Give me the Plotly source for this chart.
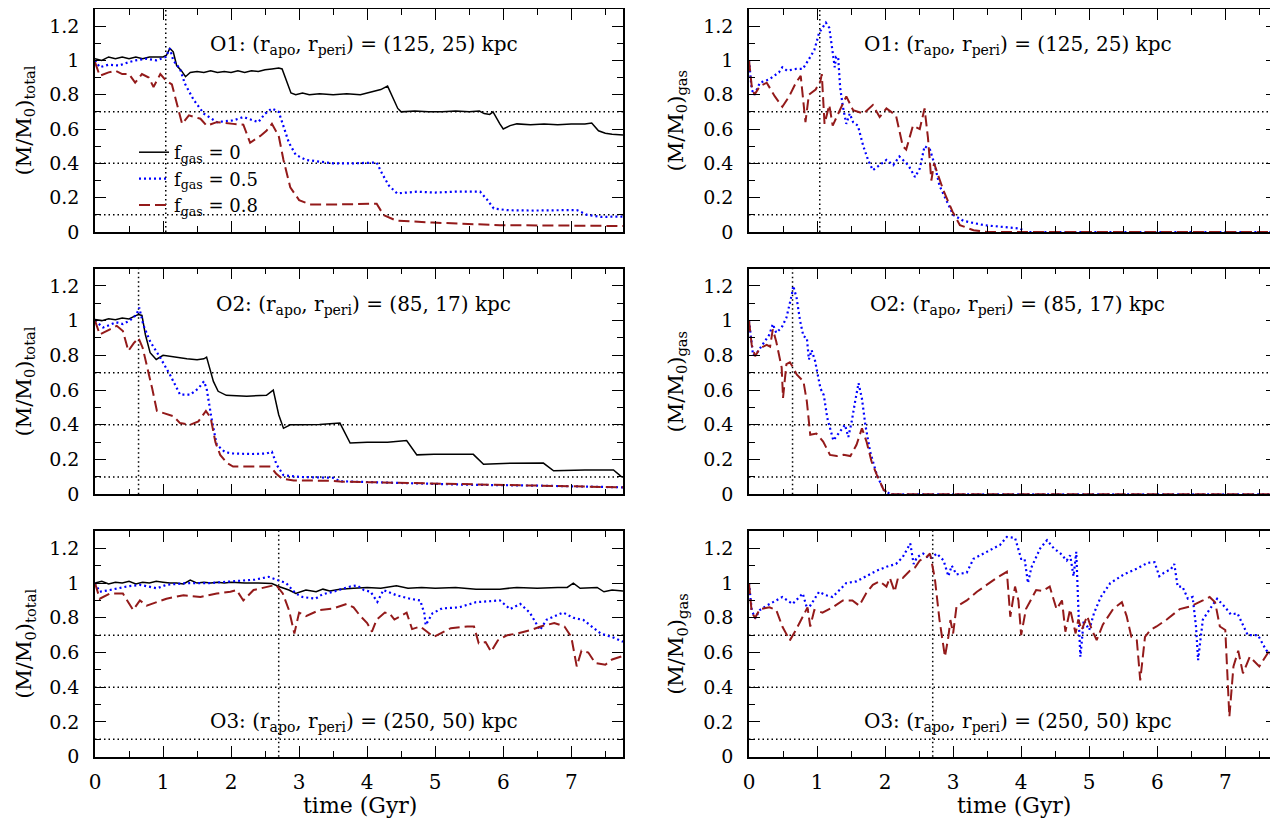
import plotly.graph_objects as go

# ---------------- data (time in Gyr, mass fraction) ----------------
o1_tot_f0 = [(0,1.01),(0.1,1.0),(0.2,1.02),(0.3,1.01),(0.4,1.02),(0.5,1.01),(0.6,1.02),(0.7,1.01),(0.8,1.02),(0.9,1.02),(1.0,1.02),(1.05,1.03),(1.1,1.07),(1.15,1.05),(1.2,0.97),(1.27,0.94),(1.33,0.905),(1.4,0.93),(1.5,0.935),(1.6,0.93),(1.7,0.94),(1.8,0.93),(1.9,0.935),(2.0,0.93),(2.1,0.94),(2.2,0.93),(2.3,0.94),(2.4,0.935),(2.5,0.945),(2.6,0.95),(2.7,0.955),(2.75,0.95),(2.82,0.87),(2.88,0.81),(2.95,0.80),(3.05,0.81),(3.15,0.80),(3.3,0.805),(3.5,0.80),(3.7,0.805),(3.9,0.80),(4.1,0.82),(4.2,0.83),(4.3,0.85),(4.38,0.78),(4.45,0.72),(4.5,0.70),(4.7,0.705),(4.9,0.70),(5.1,0.70),(5.3,0.705),(5.5,0.70),(5.65,0.705),(5.72,0.69),(5.8,0.685),(5.85,0.70),(5.95,0.63),(6.0,0.60),(6.1,0.62),(6.2,0.63),(6.4,0.625),(6.6,0.63),(6.8,0.625),(7.0,0.63),(7.2,0.63),(7.3,0.635),(7.4,0.59),(7.5,0.575),(7.6,0.57),(7.76,0.565)]
o1_tot_f05 = [(0,1.0),(0.07,0.96),(0.2,0.975),(0.35,0.97),(0.5,0.99),(0.6,1.0),(0.75,1.01),(0.9,1.0),(1.04,1.02),(1.1,1.07),(1.15,1.0),(1.25,0.95),(1.32,0.865),(1.45,0.77),(1.6,0.69),(1.79,0.64),(1.9,0.645),(2.03,0.65),(2.18,0.67),(2.3,0.655),(2.4,0.64),(2.5,0.69),(2.6,0.72),(2.7,0.70),(2.78,0.61),(2.85,0.52),(2.95,0.45),(3.1,0.42),(3.3,0.41),(3.5,0.40),(3.8,0.40),(4.0,0.405),(4.14,0.405),(4.22,0.34),(4.32,0.27),(4.44,0.225),(4.6,0.23),(4.73,0.235),(5.0,0.23),(5.3,0.235),(5.66,0.235),(5.76,0.19),(5.86,0.137),(6.06,0.127),(6.45,0.125),(6.8,0.128),(7.08,0.128),(7.23,0.10),(7.43,0.088),(7.76,0.09)]
o1_tot_f08 = [(0,0.99),(0.07,0.91),(0.2,0.93),(0.3,0.94),(0.4,0.92),(0.5,0.92),(0.59,0.87),(0.69,0.92),(0.79,0.90),(0.86,0.845),(0.96,0.92),(1.05,0.88),(1.13,0.86),(1.23,0.71),(1.28,0.63),(1.38,0.68),(1.55,0.66),(1.64,0.62),(1.79,0.64),(2.03,0.63),(2.18,0.625),(2.28,0.52),(2.43,0.56),(2.52,0.59),(2.6,0.63),(2.7,0.56),(2.77,0.42),(2.87,0.26),(3.0,0.186),(3.16,0.16),(3.5,0.16),(4.14,0.165),(4.24,0.099),(4.43,0.066),(4.96,0.055),(5.95,0.04),(7.76,0.035)]
o1_gas_f05 = [(0,1.0),(0.04,0.83),(0.08,0.80),(0.16,0.87),(0.3,0.89),(0.44,0.93),(0.49,0.96),(0.56,0.94),(0.69,0.95),(0.79,0.95),(0.87,1.0),(0.96,1.06),(1.03,1.16),(1.13,1.22),(1.18,1.19),(1.23,1.06),(1.26,0.96),(1.28,1.02),(1.31,1.02),(1.34,0.84),(1.38,0.73),(1.43,0.63),(1.48,0.69),(1.53,0.64),(1.6,0.62),(1.68,0.50),(1.75,0.42),(1.82,0.36),(1.92,0.39),(2.02,0.42),(2.12,0.39),(2.21,0.44),(2.34,0.39),(2.44,0.32),(2.51,0.37),(2.58,0.50),(2.66,0.48),(2.73,0.39),(2.8,0.27),(2.9,0.18),(3.0,0.10),(3.15,0.065),(3.45,0.04),(3.99,0.02),(4.05,0.0),(7.76,0.0)]
o1_gas_f08 = [(0,1.0),(0.04,0.85),(0.08,0.80),(0.16,0.85),(0.26,0.87),(0.38,0.79),(0.49,0.73),(0.59,0.79),(0.69,0.87),(0.76,0.91),(0.83,0.64),(0.88,0.80),(0.98,0.83),(1.05,0.88),(1.07,0.92),(1.11,0.63),(1.18,0.74),(1.23,0.62),(1.3,0.68),(1.43,0.79),(1.53,0.71),(1.68,0.69),(1.82,0.74),(1.92,0.67),(2.02,0.72),(2.16,0.68),(2.26,0.50),(2.31,0.48),(2.41,0.62),(2.51,0.60),(2.58,0.72),(2.63,0.55),(2.68,0.30),(2.72,0.40),(2.78,0.33),(2.86,0.24),(2.99,0.12),(3.1,0.04),(3.3,0.01),(3.5,0.0),(7.76,0.0)]

o2_tot_f0 = [(0,1.007),(0.1,1.0),(0.2,1.01),(0.3,1.005),(0.4,1.015),(0.5,1.01),(0.59,1.027),(0.64,1.035),(0.69,1.03),(0.74,0.92),(0.81,0.815),(0.9,0.776),(1.0,0.80),(1.15,0.79),(1.35,0.78),(1.5,0.775),(1.6,0.78),(1.64,0.79),(1.74,0.65),(1.81,0.593),(1.93,0.57),(2.23,0.565),(2.52,0.57),(2.62,0.60),(2.7,0.458),(2.77,0.38),(2.87,0.40),(3.0,0.40),(3.3,0.402),(3.6,0.41),(3.75,0.295),(4.0,0.30),(4.3,0.30),(4.58,0.31),(4.73,0.227),(4.98,0.23),(5.56,0.23),(5.71,0.173),(6.0,0.178),(6.59,0.18),(6.74,0.135),(7.2,0.14),(7.62,0.14),(7.74,0.10)]
o2_tot_f05 = [(0,1.0),(0.12,0.96),(0.31,0.99),(0.41,0.98),(0.51,1.0),(0.61,1.035),(0.65,1.075),(0.71,0.975),(0.81,0.88),(0.96,0.786),(1.1,0.69),(1.25,0.574),(1.4,0.574),(1.52,0.61),(1.6,0.65),(1.64,0.61),(1.72,0.42),(1.79,0.285),(1.91,0.243),(2.03,0.235),(2.3,0.232),(2.52,0.235),(2.6,0.245),(2.67,0.17),(2.77,0.11),(3.0,0.10),(3.5,0.095),(3.6,0.075),(4.5,0.065),(5.5,0.055),(6.5,0.05),(7.76,0.04)]
o2_tot_f08 = [(0,1.0),(0.07,0.92),(0.22,0.95),(0.32,0.97),(0.41,0.94),(0.49,0.825),(0.57,0.87),(0.64,0.90),(0.7,0.844),(0.77,0.73),(0.84,0.61),(0.91,0.48),(1.0,0.47),(1.15,0.45),(1.25,0.41),(1.4,0.40),(1.52,0.42),(1.63,0.48),(1.7,0.44),(1.77,0.30),(1.84,0.227),(1.94,0.18),(2.03,0.16),(2.48,0.16),(2.58,0.16),(2.66,0.12),(2.75,0.09),(2.92,0.08),(3.45,0.078),(3.6,0.073),(4.5,0.065),(5.5,0.055),(6.5,0.05),(7.76,0.04)]
o2_gas_f05 = [(0,1.0),(0.04,0.86),(0.06,0.80),(0.11,0.81),(0.21,0.87),(0.3,0.92),(0.35,0.98),(0.4,0.93),(0.48,0.96),(0.55,1.017),(0.63,1.15),(0.65,1.20),(0.7,1.13),(0.75,1.0),(0.8,0.91),(0.85,0.90),(0.88,0.776),(0.92,0.83),(0.97,0.77),(1.05,0.61),(1.1,0.57),(1.15,0.44),(1.24,0.31),(1.34,0.36),(1.41,0.40),(1.46,0.33),(1.51,0.42),(1.56,0.535),(1.61,0.64),(1.66,0.55),(1.71,0.40),(1.78,0.246),(1.88,0.11),(1.98,0.025),(2.08,0.0),(7.76,0.0)]
o2_gas_f08 = [(0,1.0),(0.04,0.86),(0.09,0.795),(0.16,0.84),(0.26,0.86),(0.31,0.85),(0.35,0.95),(0.4,0.88),(0.48,0.73),(0.5,0.555),(0.55,0.75),(0.6,0.76),(0.65,0.73),(0.7,0.69),(0.8,0.65),(0.85,0.535),(0.9,0.343),(0.99,0.35),(1.09,0.304),(1.19,0.227),(1.29,0.22),(1.39,0.227),(1.49,0.22),(1.58,0.285),(1.66,0.38),(1.73,0.30),(1.8,0.19),(1.88,0.11),(1.98,0.025),(2.08,0.0),(7.76,0.0)]

o3_tot_f0 = [(0,1.0),(0.1,1.01),(0.2,0.995),(0.3,1.005),(0.4,1.0),(0.5,1.01),(0.6,0.995),(0.7,1.005),(0.8,1.0),(0.9,1.01),(1.0,1.005),(1.1,1.0),(1.2,1.0),(1.3,0.995),(1.4,1.017),(1.5,1.0),(1.6,1.005),(1.7,1.0),(1.8,1.005),(1.9,1.0),(2.0,1.005),(2.2,1.0),(2.4,1.0),(2.6,0.997),(2.7,0.98),(2.85,0.96),(2.95,0.94),(3.1,0.96),(3.25,0.95),(3.35,0.965),(3.45,0.955),(3.6,0.965),(3.8,0.97),(4.0,0.975),(4.2,0.97),(4.43,0.985),(4.6,0.97),(4.8,0.975),(5.0,0.97),(5.3,0.975),(5.6,0.965),(5.95,0.965),(6.2,0.975),(6.5,0.97),(6.8,0.975),(6.94,0.975),(7.03,1.0),(7.13,0.97),(7.38,0.975),(7.48,0.95),(7.6,0.96),(7.76,0.955)]
o3_tot_f05 = [(0,1.0),(0.07,0.95),(0.22,0.96),(0.46,0.98),(0.66,0.99),(0.91,0.97),(1.05,0.99),(1.34,1.0),(1.68,1.0),(2.02,1.01),(2.35,1.02),(2.55,1.036),(2.66,1.02),(2.81,1.0),(2.95,0.94),(3.05,0.92),(3.24,0.91),(3.34,0.935),(3.5,0.95),(3.75,0.98),(3.85,0.987),(3.95,0.96),(4.05,0.95),(4.15,0.892),(4.24,0.96),(4.43,0.93),(4.63,0.91),(4.78,0.90),(4.84,0.826),(4.86,0.758),(4.96,0.826),(5.1,0.854),(5.35,0.86),(5.6,0.89),(5.95,0.90),(6.1,0.85),(6.25,0.88),(6.39,0.83),(6.54,0.73),(6.64,0.79),(6.88,0.83),(7.03,0.80),(7.18,0.787),(7.43,0.71),(7.62,0.686),(7.76,0.662)]
o3_tot_f08 = [(0,1.0),(0.07,0.91),(0.22,0.94),(0.41,0.94),(0.56,0.845),(0.66,0.90),(0.76,0.87),(0.91,0.89),(1.05,0.91),(1.3,0.93),(1.55,0.92),(1.79,0.94),(1.99,0.95),(2.08,0.96),(2.18,0.90),(2.33,0.96),(2.55,0.98),(2.66,0.99),(2.76,0.94),(2.85,0.845),(2.93,0.71),(3.0,0.83),(3.1,0.81),(3.3,0.845),(3.5,0.854),(3.7,0.88),(3.8,0.86),(3.9,0.81),(4.0,0.77),(4.07,0.72),(4.14,0.79),(4.26,0.83),(4.33,0.825),(4.4,0.79),(4.58,0.83),(4.66,0.735),(4.78,0.75),(4.88,0.72),(4.98,0.69),(5.08,0.71),(5.23,0.74),(5.47,0.75),(5.57,0.75),(5.64,0.653),(5.74,0.66),(5.82,0.605),(5.92,0.67),(6.06,0.70),(6.21,0.71),(6.41,0.73),(6.55,0.75),(6.75,0.77),(6.9,0.75),(7.0,0.69),(7.08,0.52),(7.15,0.61),(7.25,0.60),(7.35,0.54),(7.5,0.53),(7.6,0.56),(7.76,0.58)]
o3_gas_f05 = [(0,1.0),(0.04,0.845),(0.09,0.797),(0.16,0.845),(0.26,0.87),(0.4,0.90),(0.49,0.92),(0.64,0.88),(0.79,0.94),(0.86,0.845),(0.93,0.89),(0.98,0.92),(1.03,0.95),(1.13,0.93),(1.23,0.92),(1.33,0.96),(1.43,1.0),(1.58,1.01),(1.73,1.04),(1.87,1.07),(2.02,1.094),(2.16,1.11),(2.26,1.15),(2.37,1.228),(2.42,1.11),(2.47,1.15),(2.56,1.17),(2.66,1.14),(2.76,1.17),(2.86,1.13),(2.93,1.04),(2.98,1.10),(3.05,1.05),(3.2,1.06),(3.3,1.14),(3.49,1.18),(3.69,1.22),(3.79,1.266),(3.91,1.26),(4.0,1.14),(4.05,1.14),(4.1,1.0),(4.15,1.09),(4.28,1.2),(4.38,1.247),(4.48,1.2),(4.58,1.17),(4.67,1.13),(4.72,1.16),(4.77,1.04),(4.81,1.18),(4.85,0.758),(4.87,0.576),(4.92,0.787),(5.0,0.73),(5.07,0.826),(5.17,0.92),(5.31,1.0),(5.51,1.05),(5.71,1.085),(5.86,1.117),(5.96,1.12),(6.03,1.04),(6.1,1.06),(6.2,1.08),(6.25,1.11),(6.3,0.98),(6.37,0.98),(6.45,0.91),(6.52,0.92),(6.57,0.748),(6.6,0.556),(6.67,0.79),(6.79,0.86),(6.88,0.91),(7.0,0.86),(7.08,0.82),(7.18,0.825),(7.33,0.70),(7.48,0.70),(7.6,0.614),(7.72,0.576),(7.76,0.52)]
o3_gas_f08 = [(0,1.0),(0.04,0.83),(0.09,0.80),(0.16,0.85),(0.3,0.86),(0.4,0.845),(0.49,0.75),(0.6,0.67),(0.69,0.73),(0.79,0.81),(0.86,0.86),(0.9,0.75),(0.96,0.845),(1.08,0.83),(1.23,0.86),(1.38,0.90),(1.52,0.90),(1.62,0.87),(1.72,0.94),(1.82,0.99),(1.92,1.01),(2.02,0.98),(2.07,1.03),(2.14,0.95),(2.19,1.03),(2.26,1.03),(2.36,1.07),(2.44,1.09),(2.51,1.13),(2.61,1.15),(2.66,1.17),(2.73,1.03),(2.8,0.787),(2.88,0.576),(2.93,0.69),(2.96,0.787),(3.0,0.71),(3.05,0.865),(3.2,0.90),(3.35,0.95),(3.49,0.99),(3.64,1.03),(3.79,1.065),(3.84,0.806),(3.91,0.98),(3.96,0.90),(4.0,0.70),(4.07,0.85),(4.22,0.96),(4.32,0.955),(4.42,0.98),(4.52,0.85),(4.6,0.90),(4.65,0.72),(4.72,0.85),(4.8,0.71),(4.84,0.79),(4.89,0.73),(4.97,0.81),(5.04,0.73),(5.11,0.672),(5.2,0.76),(5.35,0.85),(5.48,0.89),(5.55,0.81),(5.62,0.69),(5.7,0.67),(5.75,0.44),(5.82,0.69),(5.9,0.73),(5.99,0.75),(6.14,0.79),(6.33,0.85),(6.48,0.865),(6.67,0.90),(6.77,0.92),(6.85,0.89),(6.92,0.75),(7.0,0.73),(7.06,0.23),(7.12,0.52),(7.19,0.61),(7.26,0.48),(7.36,0.576),(7.5,0.52),(7.63,0.60),(7.73,0.60),(7.76,0.58)]

orbit_labels = ["O1: (r<sub>apo</sub>, r<sub>peri</sub>) = (125, 25) kpc",
                "O2: (r<sub>apo</sub>, r<sub>peri</sub>) = (85, 17) kpc",
                "O3: (r<sub>apo</sub>, r<sub>peri</sub>) = (250, 50) kpc"]
pericentre_times = [1.04, 0.64, 2.70]
ref_levels = [0.1, 0.4, 0.7]
legend_names = ["f<sub>gas</sub> = 0", "f<sub>gas</sub> = 0.5", "f<sub>gas</sub> = 0.8"]
x_ticks = [0, 1, 2, 3, 4, 5, 6, 7]
y_ticks = [0, 0.2, 0.4, 0.6, 0.8, 1.0, 1.2]
y_ticktext = ["0", "0.2", "0.4", "0.6", "0.8", "1", "1.2"]

# ---------------- layout / style ----------------
# the page body adds an 8px offset, so the figure is 1270x811 and positions are screen-8
OFF = 8
W, H = 1278 - OFF, 819 - OFF
FONT = "DejaVu Serif"
styles = {
    0: dict(color="black", width=1.5, dash="solid"),
    1: dict(color="#0000ff", width=2.2, dash="2px,3px"),
    2: dict(color="#931a1a", width=2, dash="11px,5px"),
}
panels = [
    (0, 0, [o1_tot_f0, o1_tot_f05, o1_tot_f08], [0, 1, 2]),
    (0, 1, [o1_gas_f05, o1_gas_f08], [1, 2]),
    (1, 0, [o2_tot_f0, o2_tot_f05, o2_tot_f08], [0, 1, 2]),
    (1, 1, [o2_gas_f05, o2_gas_f08], [1, 2]),
    (2, 0, [o3_tot_f0, o3_tot_f05, o3_tot_f08], [0, 1, 2]),
    (2, 1, [o3_gas_f05, o3_gas_f08], [1, 2]),
]


def px(x):
    return (x - OFF) / W


def py(y):
    return 1 - (y - OFF) / H


xdom = {0: [px(95), px(623)], 1: [px(749), px(1277)]}
ypix = {0: (8.9, 232.0), 1: (268.5, 494.3), 2: (531.0, 756.7)}
ydom = {r: [py(b), py(t)] for r, (t, b) in ypix.items()}

fig = go.Figure()
layout = dict(template="none", width=W, height=H, margin=dict(l=0, r=0, t=0, b=0, pad=0),
              autosize=False, plot_bgcolor="white", paper_bgcolor="white",
              font=dict(family=FONT, size=18, color="black"),
              showlegend=True,
              legend=dict(x=px(134), y=py(134), xanchor="left", yanchor="top",
                          bgcolor="rgba(0,0,0,0)", borderwidth=0,
                          font=dict(family=FONT, size=18, color="black"),
                          tracegroupgap=0, itemwidth=30))
shapes, annotations = [], []

for i, (r, c, series, kinds) in enumerate(panels):
    n = i + 1
    xa = "x" if n == 1 else f"x{n}"
    ya = "y" if n == 1 else f"y{n}"
    for s, k in zip(series, kinds):
        st = styles[k]
        fig.add_trace(go.Scatter(
            x=[p[0] for p in s], y=[p[1] for p in s], mode="lines",
            xaxis=xa, yaxis=ya, name=legend_names[k],
            showlegend=(n == 1), legendrank=k,
            line=dict(color=st["color"], width=st["width"], dash=st["dash"]),
            hoverinfo="skip"))
    bottom = (r == 2)
    layout[f"xaxis{n if n > 1 else ''}"] = dict(
        domain=xdom[c], anchor=ya, range=[0, 7.76], tickmode="array", tickvals=x_ticks,
        ticks="inside", ticklen=11, tickwidth=1.3, tickcolor="black",
        minor=dict(dtick=0.5, tick0=0, ticks="inside", ticklen=6, tickwidth=1.3, tickcolor="black"),
        showline=True, linecolor="black", linewidth=1.6, mirror="ticks",
        showgrid=False, zeroline=False, showticklabels=bottom, automargin=False,
        tickfont=dict(family=FONT, size=20), ticklabelstandoff=6)
    layout[f"yaxis{n if n > 1 else ''}"] = dict(
        domain=ydom[r], anchor=xa, range=[0, 1.3], tickmode="array",
        tickvals=y_ticks, ticktext=y_ticktext,
        ticks="inside", ticklen=11, tickwidth=1.3, tickcolor="black",
        minor=dict(dtick=0.1, tick0=0, ticks="inside", ticklen=6, tickwidth=1.3, tickcolor="black"),
        showline=True, linecolor="black", linewidth=1.6, mirror="ticks",
        showgrid=False, zeroline=False, automargin=False,
        tickfont=dict(family=FONT, size=19), ticklabelstandoff=10)
    for lv in ref_levels:
        shapes.append(dict(type="line", xref=f"{xa} domain", yref=ya, x0=0, x1=1, y0=lv, y1=lv,
                           line=dict(color="black", width=1.5, dash="1.5px,3px"), layer="below"))
    tp = pericentre_times[r]
    shapes.append(dict(type="line", xref=xa, yref=f"{ya} domain", x0=tp, x1=tp, y0=0, y1=1,
                       line=dict(color="black", width=1.5, dash="1.5px,3px"), layer="below"))
    annotations.append(dict(text=orbit_labels[r], xref=xa, yref=ya, x=3.95,
                            y=(1.09 if r < 2 else 0.2), showarrow=False,
                            xanchor="center", yanchor="middle",
                            font=dict(family=FONT, size=20)))
    ytitle = "(M/M<sub>0</sub>)<sub>total</sub>" if c == 0 else "(M/M<sub>0</sub>)<sub>gas</sub>"
    yc = (ydom[r][0] + ydom[r][1]) / 2
    annotations.append(dict(text=ytitle, xref="paper", yref="paper",
                            x=px(25 if c == 0 else 677), y=yc, textangle=-90,
                            showarrow=False, xanchor="center", yanchor="middle",
                            font=dict(family=FONT, size=21)))
    if bottom:
        annotations.append(dict(text="time (Gyr)", xref=xa, yref="paper", x=3.9, y=py(805),
                                showarrow=False, xanchor="center", yanchor="middle",
                                font=dict(family=FONT, size=22)))

layout["shapes"] = shapes
layout["annotations"] = annotations
fig.update_layout(**layout)
fig.write_html("out.html")
